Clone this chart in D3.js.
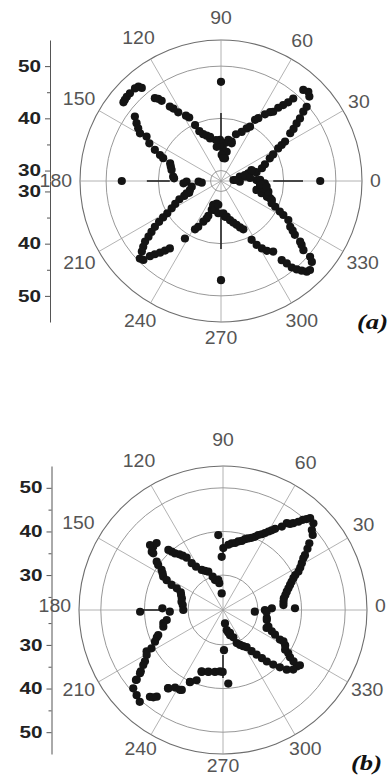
<!DOCTYPE html>
<html>
<head>
<meta charset="utf-8">
<script src="https://cdn.jsdelivr.net/npm/d3@7"></script>
<style>
  body { margin: 0; background: #fff; }
  svg { display: block; }
</style>
</head>
<body>
<svg id="chart" width="391" height="778"></svg>
<script>
// angular grid / tick labels (degrees)
const angleTicks = [0, 30, 60, 90, 120, 150, 180, 210, 240, 270, 300, 330];
const ringValues = [30, 40, 50];
const axisMajor = [30, 40, 50];

// panel (a): measured points as [angle in degrees, radius value]
const pointsA = [
  [1.6, 34.8], [4.6, 30.4], [12.8, 31.7], [13.7, 35], [15.7, 33.4], [15.3, 34.7], [10.2, 32.7], [358, 31.6],
  [4.1, 30.7], [14, 32.7], [19.7, 34.2], [1.5, 35.5], [5.9, 33.6],
  [17.3, 36.2], [20.8, 37], [24.9, 38.3], [27, 39.2], [29.7, 40.6], [30.7, 41.5], [31.6, 42.4], [34.6, 44.1],
  [35.7, 45.1], [37.3, 46.2], [38.4, 47.3], [40.1, 48.6], [40.9, 49.7], [43.7, 51.4], [45.6, 51.9], [47.9, 51.5],
  [48.8, 49], [49.5, 47.8], [50.7, 46.8], [52, 45.8], [53, 44.6], [54.5, 44.2], [56.6, 43.3], [59.3, 42],
  [60.9, 41.4], [61.9, 39.8], [64, 39.2], [67.2, 38.2], [72.2, 37.4], [74.8, 35.8], [77.1, 35.7], [79, 33.7],
  [80, 32.4], [83.9, 35.3], [84.6, 32.7], [85.8, 34], [79.9, 36], [74.2, 35.5], [88.5, 33], [84.2, 32.4],
  [91.6, 34.9], [97.1, 34.6], [104.4, 36.4],
  [91.4, 35.9], [97, 35.9], [103.9, 36.7], [107.5, 37.1], [110.8, 37.6], [113.5, 38.4], [114.9, 39.8], [116.6, 41.6],
  [118.2, 42.2], [121.9, 43.5], [123.3, 44.6], [124.5, 45.3], [126.5, 47.1], [127.4, 47.8], [128.6, 48.3], [130.4, 51.4],
  [131.2, 52], [132.9, 52.2], [136.1, 52.2], [138.2, 52.2], [139.8, 52.1], [141.1, 52],
  [143.2, 48.6], [145.6, 47.6], [147.5, 46.8], [149.5, 46], [149.2, 44.6], [152.3, 43.5], [154.8, 42], [156.9, 40.7],
  [158.5, 39.9], [160.9, 38.3], [164, 38], [167.4, 37.7], [174.8, 37.2], [176.7, 37], [181.2, 34.6], [185, 31.7],
  [183.5, 35.2], [196.2, 34.2], [181.8, 32.3],
  [191, 33.7], [199.7, 35], [200.3, 34.5], [202.1, 35.6], [203.7, 36.7], [206.6, 37.8], [209, 38.8], [211, 40],
  [212.2, 41.1], [213.4, 42.2], [214.7, 43.4], [216.2, 44.5], [217.5, 45.5], [218.6, 46.6], [220.2, 47.5], [221.7, 48.3],
  [223.7, 49.5], [225.5, 49.2], [226.6, 47.8], [227.9, 46.9], [229.6, 46], [231.2, 45.1], [232.8, 44.2], [237.9, 41],
  [241.7, 38.5], [243.6, 37.8], [246.5, 36.5], [249, 35.7], [250, 35.1], [252.2, 33.8], [252.9, 33], [259, 32.4],
  [252.2, 32.8], [258.3, 33.7], [265.2, 34.2], [276.4, 34.9],
  [263.6, 32.6], [274.1, 34.2], [279.1, 34.9], [283, 35.7], [286.4, 36.3], [289.6, 36.9], [292.3, 37.6], [294.8, 38.2],
  [297.5, 40.7], [299.2, 42], [301.2, 43.1], [303.3, 44], [306.5, 44.8], [307.5, 47.1], [308.6, 48.2], [309.3, 49.4],
  [310.6, 50.3], [312, 51.1], [313.4, 51.9], [315, 52.1], [318.3, 51.3], [319.6, 50.4], [320, 48.6], [321.6, 47.7],
  [322.5, 47.1], [323.9, 45.5], [325.3, 44.7], [326.5, 43.9], [329.9, 42.9], [331.4, 41.6], [332.5, 40.7], [334.6, 39.5],
  [336.3, 38.6], [340.5, 38], [341, 37.3], [343.2, 36.1], [343.5, 37.4], [345.9, 35], [347.3, 37.3], [350.2, 36.2],
  [354.1, 35.5], [357, 36.4], [354.4, 35.8], [352.9, 36.8], [339.5, 38.4],
];
// panel (a): single points on the main axes and the dark bars along them
const axisAnglesA = [0, 90, 180, 270];
const axisDotsA = [47, 47, 47, 47];
const barFromA = [38, 34.5, 37.8, 34];
const barToA = [43.7, 41, 42.2, 41];

// panel (b)
const pointsB = [
  [0, 31.6], [1.4, 38.5], [2, 33.2], [4.7, 35.9], [7.8, 36], [10.9, 36.2], [13.5, 36.7], [16, 37.2],
  [18.4, 37.8], [20.5, 38.4], [22.4, 39], [24.3, 39.7], [25.8, 40.4], [27, 41.4], [28.8, 42.2], [30.7, 43],
  [32.8, 43.9], [33.8, 44.6], [35.9, 45.9], [37.7, 47], [39.9, 48.8], [42, 49.4], [43.8, 50.7], [46.5, 51],
  [47.4, 50.3], [48.5, 49.6], [49.5, 48.6], [51, 47.6], [52.1, 47], [53.7, 46.7], [54.8, 45.4], [57.3, 44.1],
  [58.6, 43.4], [59.9, 42.8], [61.4, 42.1], [62.9, 41.5], [64.8, 41], [66.4, 40.3], [68.4, 39.8], [70.6, 39.4],
  [72.7, 39], [74.8, 38.4], [77.4, 38.1], [79.8, 37.6], [82.6, 37.4], [85.3, 37], [89.7, 36.2], [91.4, 34.2],
  [93.6, 39.2],
  [94.5, 25.8], [97.9, 28.2], [98.9, 29], [104.9, 29.1], [107.2, 30], [111, 31.4], [114.8, 31.9], [118, 32.4],
  [121.9, 33.7], [123.8, 34.9], [124.8, 36.6], [126.6, 37.5], [128.1, 38.2], [130.3, 39], [131.3, 39.8], [132.3, 40.6],
  [134.8, 43.6], [137.8, 43.6], [138.3, 44.4], [140.7, 43.1], [140.9, 42.6], [143.9, 40.8], [145.2, 40.1], [146.9, 38.8],
  [148.7, 38.2], [150.8, 37.7], [152.1, 36.6], [154, 35.1], [154.9, 33.7], [157.2, 32.5], [160.3, 32.2], [164.2, 31.8],
  [168.6, 31.7], [172.9, 31.3], [178.4, 35.9], [180, 31.1], [181.2, 41], [181.8, 34.2],
  [190.1, 35.1], [192.3, 36], [195.6, 36.2], [201.1, 37.9], [202.4, 38.4], [205, 39.2], [208.2, 40.6], [208.4, 41.9],
  [210.5, 42.3], [213.3, 43.4], [214.6, 44.2], [216.7, 45.5], [217.3, 45.9], [218.8, 47.6], [218.9, 47.4], [221.1, 49.3],
  [224.6, 49.8], [227.8, 50.4], [229.9, 48], [231.4, 47.6], [232.6, 47], [234.9, 43.9], [235.1, 43.9], [238.3, 42.9],
  [241.6, 42.8], [242.7, 42.6], [245.3, 40.1], [245.4, 40.2], [249.4, 39.2], [250.8, 36.9], [251, 37], [256.6, 36.5],
  [256.7, 36.6], [262.6, 36.3], [267.2, 36.1], [269.7, 36.2], [271.4, 31.2], [274.1, 38.9],
  [278.5, 25.1], [280.5, 26.7], [283.1, 27.3], [285.6, 28], [286.9, 27.5], [290.7, 28.7], [292.5, 30.2], [296.1, 30.9],
  [299.2, 31.5], [302.4, 32.1], [304.8, 33.5], [307, 34.8], [308.9, 36.2], [310.4, 37.5], [312.6, 39], [314.8, 40.5],
  [316.9, 42], [319.7, 43.1], [322.6, 43.3], [323.9, 42], [324.3, 43.7], [324.8, 40.8], [326.6, 39.9], [327.4, 38.9],
  [330.3, 38.4], [332.5, 36.7], [332.6, 37.6], [334.6, 35.2], [336.4, 34.2], [337.6, 32.8], [339.8, 33.1], [347.1, 32.3],
  [349.6, 32.2], [357, 29.3], [357.4, 32],
];
const axisAnglesB = [90, 180, 270];
const axisDotsB = [];
const barFromB = [33.9, 36, 32.3];
const barToB = [38.5, 41, 37.6];

const svg = d3.select('#chart');

function drawPanel (p) {
	const R = p.R;
	const r = d3.scaleLinear().domain(p.domain).range([0, R]);
	// angle in degrees (counter-clockwise from 3 o'clock) -> svg point
	const pt = (deg, v) => d3.pointRadial(Math.PI / 2 - deg * Math.PI / 180, r(v));

	const g = svg.append('g').attr('transform', `translate(${p.cx},${p.cy})`);

	g.selectAll('.ring')
		.data(ringValues)
		.enter().append('circle')
		.attr('r', d => r(d))
		.attr('fill', 'none')
		.attr('stroke', '#8c8c8c')
		.attr('stroke-width', 0.9);

	g.append('circle')
		.attr('r', R)
		.attr('fill', 'none')
		.attr('stroke', '#6e6e6e')
		.attr('stroke-width', 1.1);

	g.selectAll('.spoke')
		.data(angleTicks)
		.enter().append('line')
		.attr('x1', 0).attr('y1', 0)
		.attr('x2', d => pt(d, p.domain[1])[0])
		.attr('y2', d => pt(d, p.domain[1])[1])
		.attr('stroke', '#a0a0a0')
		.attr('stroke-width', 0.8);

	// dark bars along main axes
	g.selectAll('.bar')
		.data(p.axisAngles)
		.enter().append('line')
		.attr('x1', (d, i) => pt(d, p.barFrom[i])[0])
		.attr('y1', (d, i) => pt(d, p.barFrom[i])[1])
		.attr('x2', (d, i) => pt(d, p.barTo[i])[0])
		.attr('y2', (d, i) => pt(d, p.barTo[i])[1])
		.attr('stroke', '#222')
		.attr('stroke-width', 1.6);

	// angle labels, placed just outside the outer circle
	const labelPos = d => {
		const a = d * Math.PI / 180;
		const w = String(d).length * 10.8;
		const s = Math.sin(a);
		const off = R + 8 + 0.5 * w * Math.abs(Math.cos(a)) + (s > 0 ? 14 : 8) * Math.pow(s, 4);
		return [Math.cos(a) * off, -s * off + p.labelShift];
	};
	g.selectAll('.alabel')
		.data(angleTicks)
		.enter().append('text')
		.attr('x', d => labelPos(d)[0])
		.attr('y', d => labelPos(d)[1])
		.attr('dy', '0.36em')
		.attr('text-anchor', 'middle')
		.attr('font-family', 'Liberation Sans, Arial, sans-serif')
		.attr('font-size', 17.5)
		.attr('textLength', d => String(d).length * 10.8)
		.attr('lengthAdjust', 'spacingAndGlyphs')
		.attr('fill', '#555')
		.text(d => d);

	// data dots
	const pts = p.points.map(d => pt(d[0], d[1]))
		.concat(p.axisDots.map((v, i) => pt(p.axisAngles[i], v)));
	g.selectAll('.dot')
		.data(pts)
		.enter().append('circle')
		.attr('cx', d => d[0])
		.attr('cy', d => d[1])
		.attr('r', 4.1)
		.attr('fill', '#141414');

	// radial axis on the left, mirrored about the centre
	const ax = svg.append('g')
		.attr('transform', `translate(${p.axisX},0)`)
		.attr('font-family', 'Liberation Sans, Arial, sans-serif');

	const up = d3.scaleLinear().domain(p.domain).range([p.cy, p.cy - R]);
	const down = d3.scaleLinear().domain(p.domain).range([p.cy, p.cy + R]);

	[up, down].forEach(s => {
		const major = ax.append('g')
			.call(d3.axisLeft(s).tickValues(axisMajor).tickSize(5).tickPadding(4).tickSizeOuter(0));
		major.select('.domain').attr('stroke', '#555');
		major.selectAll('.tick line').attr('stroke', '#555');
		major.selectAll('.tick text')
			.attr('font-size', 16)
			.attr('font-weight', 'bold')
			.attr('textLength', 23)
			.attr('lengthAdjust', 'spacingAndGlyphs')
			.attr('fill', '#222');

		const minor = ax.append('g')
			.call(d3.axisLeft(s).tickValues(p.minor).tickSize(3).tickFormat('').tickSizeOuter(0));
		minor.select('.domain').remove();
		minor.selectAll('.tick line').attr('stroke', '#555');
	});

	svg.append('text')
		.attr('x', p.labelX)
		.attr('y', p.labelY)
		.attr('text-anchor', 'end')
		.attr('font-family', 'Liberation Serif, Times New Roman, serif')
		.attr('font-style', 'italic')
		.attr('font-weight', 'bold')
		.attr('font-size', 22)
		.attr('textLength', 31)
		.attr('lengthAdjust', 'spacingAndGlyphs')
		.attr('fill', '#111')
		.text(p.label);
}

drawPanel({
	cx: 221, cy: 181, R: 141, domain: [28, 55], axisX: 50,
	points: pointsA, axisAngles: axisAnglesA, axisDots: axisDotsA,
	barFrom: barFromA, barTo: barToA,
	minor: [35, 45], labelShift: 0,
	label: '(a)', labelX: 388, labelY: 329,
});

drawPanel({
	cx: 223, cy: 610, R: 144, domain: [22, 55], axisX: 51.5,
	points: pointsB, axisAngles: axisAnglesB, axisDots: axisDotsB,
	barFrom: barFromB, barTo: barToB,
	minor: [25, 35, 45], labelShift: -4,
	label: '(b)', labelX: 382, labelY: 770,
});
</script>
</body>
</html>
